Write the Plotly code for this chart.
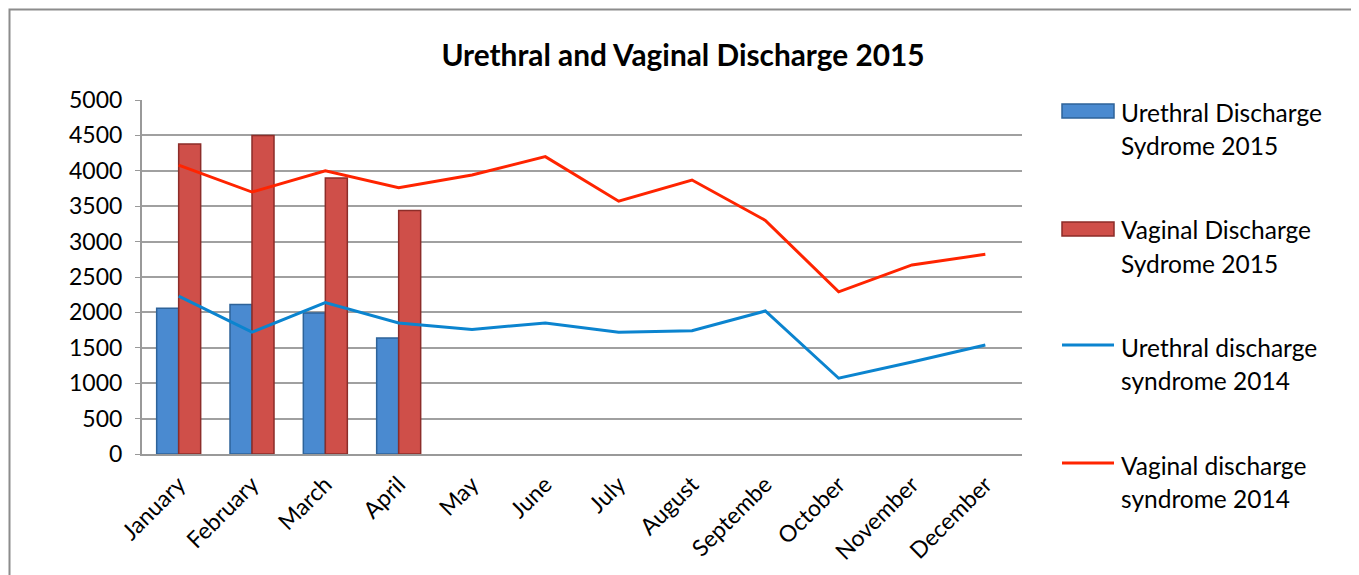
import plotly.graph_objects as go

months = ["January", "February", "March", "April", "May", "June", "July",
          "August", "Septembe", "October", "November", "December"]
urethral_2015 = [2060, 2110, 1990, 1640]
vaginal_2015 = [4380, 4500, 3900, 3440]
urethral_2014 = [2230, 1720, 2140, 1850, 1760, 1850, 1720, 1740, 2020, 1070, 1300, 1540]
vaginal_2014 = [4080, 3700, 4000, 3760, 3940, 4200, 3570, 3870, 3300, 2290, 2670, 2820]

legend_names = [["Urethral Discharge", "Sydrome 2015"],
                ["Vaginal Discharge", "Sydrome 2015"],
                ["Urethral discharge", "syndrome 2014"],
                ["Vaginal discharge", "syndrome 2014"]]

FONT = "Lato"
W, H = 1359, 575
OFF = 8  # page offset of the figure inside the browser window
# target plot-area edges in window pixels
PL, PR, PT, PB = 142, 1022, 100, 454
L, T = PL - OFF, PT - OFF
R = W - (PR - OFF)
B = H - (PB - OFF)
PW, PH = PR - PL, PB - PT

def px(x):
    return (x - PL) / PW

def py(y):
    return (PB - y) / PH

fig = go.Figure()
fig.add_trace(go.Bar(x=months[:4], y=urethral_2015, name=" ".join(legend_names[0]),
                     marker=dict(color="#4A8AD0", line=dict(color="#2E6399", width=1.5)),
                     showlegend=False))
fig.add_trace(go.Bar(x=months[:4], y=vaginal_2015, name=" ".join(legend_names[1]),
                     marker=dict(color="#CF4F49", line=dict(color="#8C2D29", width=1.5)),
                     showlegend=False))
fig.add_trace(go.Scatter(x=months, y=urethral_2014, mode="lines", name=" ".join(legend_names[2]),
                         line=dict(color="#0B84CF", width=3), showlegend=False))
fig.add_trace(go.Scatter(x=months, y=vaginal_2014, mode="lines", name=" ".join(legend_names[3]),
                         line=dict(color="#FF2400", width=3), showlegend=False))

shapes = []
annotations = []
# outer border
shapes.append(dict(type="rect", xref="paper", yref="paper",
                   x0=px(OFF + 1.5), x1=px(1356), y0=py(600), y1=py(OFF + 1.5),
                   line=dict(color="#8C8C8C", width=2), fillcolor="rgba(0,0,0,0)", layer="below"))

# legend
item_top = [112, 230, 347, 465]
key_styles = [("bar", "#4A8AD0", "#2E6399"), ("bar", "#CF4F49", "#8C2D29"),
              ("line", "#0B84CF", None), ("line", "#FF2400", None)]
for i, (yt, ks, names) in enumerate(zip(item_top, key_styles, legend_names)):
    kind, col, edge = ks
    if kind == "bar":
        shapes.append(dict(type="rect", xref="paper", yref="paper",
                           x0=px(1062), x1=px(1114), y0=py(yt + 6), y1=py(yt - 8),
                           fillcolor=col, line=dict(color=edge, width=1.5)))
    else:
        shapes.append(dict(type="line", xref="paper", yref="paper",
                           x0=px(1062), x1=px(1114), y0=py(yt - 2), y1=py(yt - 2),
                           line=dict(color=col, width=3)))
    for j, txt in enumerate(names):
        annotations.append(dict(text=txt, xref="paper", yref="paper",
                                x=px(1119), y=py(yt + 33 * j), xanchor="left", yanchor="middle",
                                showarrow=False, font=dict(family=FONT, size=24.5, color="#000000")))

fig.update_layout(
    width=W, height=H,
    margin=dict(l=L, r=R, t=T, b=B),
    paper_bgcolor="white", plot_bgcolor="white",
    barmode="group", bargap=0.4, bargroupgap=0,
    title=dict(text="<b>Urethral and Vaginal Discharge 2015</b>", x=(683 - OFF) / W, xref="container",
               y=1 - (56 - OFF) / H, yref="container", xanchor="center", yanchor="middle",
               font=dict(family=FONT, size=29.8, color="#000000")),
    font=dict(family=FONT, color="#000000"),
    shapes=shapes, annotations=annotations,
)
fig.update_xaxes(type="category", tickangle=-45, tickfont=dict(family=FONT, size=23),
                 showline=True, linecolor="#999999", linewidth=2, showgrid=False,
                 ticks="", range=[-0.5, 11.5], ticklabelstandoff=6)
fig.update_yaxes(range=[0, 5000], dtick=500, tickfont=dict(family=FONT, size=23),
                 showgrid=True, gridcolor="#A0A0A0", gridwidth=1.5,
                 showline=True, linecolor="#999999", linewidth=2, zeroline=False,
                 ticks="outside", ticklen=5, tickcolor="#999999", ticklabelstandoff=8)

fig.write_html("out.html")
